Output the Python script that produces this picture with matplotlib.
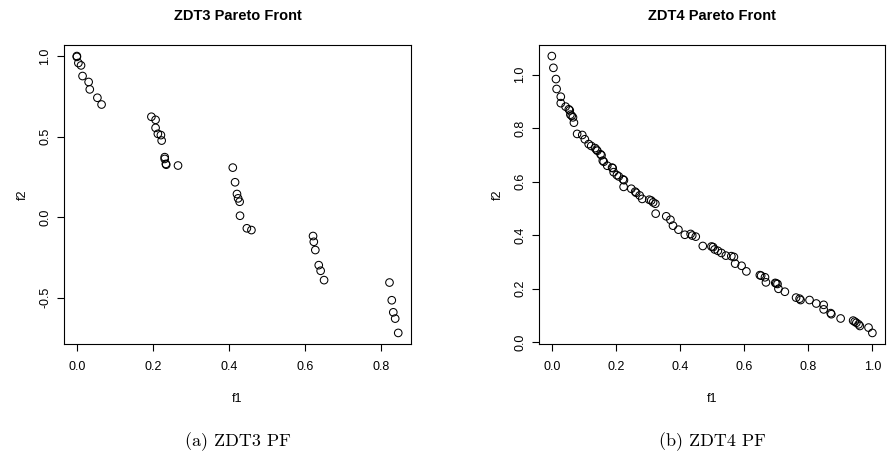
import numpy as np
import matplotlib
matplotlib.use('Agg')
import matplotlib.pyplot as plt
from matplotlib.ticker import MultipleLocator

plt.rcParams['font.family'] = ['Liberation Sans', 'DejaVu Sans']
plt.rcParams['axes.unicode_minus'] = False

# ZDT3 front (f1, f2)
zdt3_f1 = [0.000, 0.000, 0.004, 0.011, 0.015, 0.031, 0.034, 0.054, 0.065,
           0.196, 0.207, 0.207, 0.213, 0.221, 0.223, 0.231, 0.231, 0.234, 0.235, 0.266,
           0.410, 0.416, 0.421, 0.424, 0.428, 0.429, 0.447, 0.459,
           0.621, 0.623, 0.627, 0.636, 0.641, 0.650,
           0.822, 0.828, 0.832, 0.837, 0.845]
zdt3_f2 = [1.000, 0.995, 0.957, 0.942, 0.876, 0.839, 0.793, 0.741, 0.699,
           0.623, 0.604, 0.554, 0.517, 0.509, 0.475, 0.372, 0.361, 0.330, 0.325, 0.320,
           0.307, 0.216, 0.143, 0.116, 0.095, 0.008, -0.070, -0.081,
           -0.118, -0.154, -0.205, -0.299, -0.334, -0.392,
           -0.407, -0.517, -0.592, -0.631, -0.720]

# ZDT4 front (f1, f2)
zdt4_f1 = [0.000, 0.005, 0.013, 0.015, 0.028, 0.028, 0.043, 0.053, 0.056,
           0.058, 0.062, 0.066, 0.069, 0.079, 0.095, 0.103, 0.115, 0.123, 0.135,
           0.139, 0.142, 0.152, 0.155, 0.159, 0.162, 0.173, 0.188, 0.190, 0.193,
           0.203, 0.209, 0.222, 0.225, 0.224, 0.248, 0.260, 0.263, 0.274, 0.282,
           0.304, 0.310, 0.316, 0.323, 0.324, 0.357, 0.370, 0.378, 0.395, 0.415,
           0.433, 0.438, 0.449, 0.471, 0.498, 0.503, 0.508, 0.518, 0.529, 0.543,
           0.560, 0.568, 0.572, 0.592, 0.607, 0.649, 0.653, 0.665, 0.668, 0.697,
           0.700, 0.704, 0.707, 0.727, 0.762, 0.773, 0.776, 0.804, 0.825, 0.848,
           0.848, 0.870, 0.872, 0.901, 0.940, 0.945, 0.950, 0.957, 0.961, 0.988,
           1.000]
zdt4_f2 = [1.069, 1.025, 0.983, 0.946, 0.917, 0.893, 0.880, 0.870, 0.866,
           0.850, 0.846, 0.840, 0.820, 0.778, 0.774, 0.758, 0.740, 0.733, 0.725,
           0.719, 0.715, 0.702, 0.698, 0.678, 0.674, 0.659, 0.652, 0.650, 0.635,
           0.624, 0.619, 0.608, 0.605, 0.580, 0.573, 0.562, 0.558, 0.548, 0.535,
           0.532, 0.529, 0.522, 0.517, 0.480, 0.470, 0.457, 0.435, 0.420, 0.401,
           0.404, 0.398, 0.394, 0.359, 0.357, 0.355, 0.346, 0.341, 0.333, 0.323,
           0.321, 0.318, 0.293, 0.285, 0.264, 0.250, 0.248, 0.242, 0.223, 0.221,
           0.219, 0.217, 0.199, 0.188, 0.166, 0.162, 0.157, 0.157, 0.144, 0.139,
           0.122, 0.108, 0.104, 0.088, 0.080, 0.076, 0.072, 0.066, 0.060, 0.054,
           0.034]

titles = ['ZDT3 Pareto Front', 'ZDT4 Pareto Front']
captions = ['(a) ZDT3 PF', '(b) ZDT4 PF']

fig = plt.figure(figsize=(8.9, 4.61), dpi=100)
ax1 = fig.add_axes([0.0719, 0.2538, 0.3900, 0.6486])
ax2 = fig.add_axes([0.6056, 0.2538, 0.3890, 0.6486])


def style_axes(ax, title, xstep, ystep):
    # look of R base graphics
    ax.margins(0.04)
    ax.xaxis.set_major_locator(MultipleLocator(xstep))
    ax.yaxis.set_major_locator(MultipleLocator(ystep))
    for sp in ax.spines.values():
        sp.set_linewidth(0.8)
    ax.tick_params(direction='out', length=5, width=0.8, labelsize=9, colors='black')
    ax.tick_params(axis='x', pad=7)
    ax.tick_params(axis='y', pad=4)
    ax.set_xlabel('f1', fontsize=9, labelpad=15)
    ax.set_ylabel('f2', fontsize=9, labelpad=8)
    ax.set_title(title, fontsize=10.5, fontweight='bold', pad=18)


ax1.scatter(zdt3_f1, zdt3_f2, s=30, facecolors='none', edgecolors='black', linewidths=0.75)
style_axes(ax1, titles[0], 0.2, 0.5)

ax2.scatter(zdt4_f1, zdt4_f2, s=30, facecolors='none', edgecolors='black', linewidths=0.75)
style_axes(ax2, titles[1], 0.2, 0.2)

fig.canvas.draw()
for ax in (ax1, ax2):
    for lab in ax.get_yticklabels():
        lab.set_rotation(90)
        lab.set_va('center')

fig.text(0.2669, 0.042, captions[0], fontsize=13, family=['cmr10', 'DejaVu Serif'],
         ha='center', va='center')
fig.text(0.8000, 0.042, captions[1], fontsize=13, family=['cmr10', 'DejaVu Serif'],
         ha='center', va='center')

fig.savefig('out.png', dpi=100)
